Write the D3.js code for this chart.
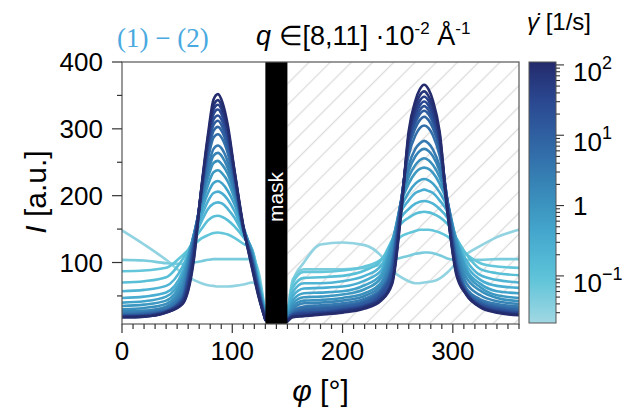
<!DOCTYPE html>
<html><head><meta charset="utf-8">
<script src="https://cdn.jsdelivr.net/npm/d3@7"></script>
<style>body{margin:0;background:#fff}svg{display:block}</style>
</head><body><svg id="c" width="625" height="409" font-family="'Liberation Sans',Arial,sans-serif"></svg>
<script>
// ---------- data ----------
const phiLeft  = [0,20,40,55,65,72,78,83,87,91,96,102,110,118,124,130];
const phiRight = [150,155,165,180,200,220,235,245,253,260,266,270,274,278,282,288,295,303,312,325,340,360];
const shearRates = [0.03,0.05,0.08,0.12,0.2,0.3,0.5,0.8,1.2,2,3,5,8,12,20,30,45,70,100];
const curvesLeft = [
 [148,127,104,84,74,69,66,65,64,64,64,65,67,70,62,20],
 [104,103,99,98,100,102,104,105,105,105,105,105,105,105,85,22],
 [87,88,92,111,126,136,141,144,145,144,142,137,128,118,78,25],
 [70,72,78,105,133,150,163,169,170,168,163,154,138,120,75,24],
 [57,59,65,94,135,161,180,188,190,188,180,167,142,118,72,23],
 [47,49,55,86,137,169,192,204,206,203,194,177,145,116,70,22],
 [40,42,49,80,139,177,204,219,222,218,207,187,149,115,68,21],
 [35,37,43,75,141,184,216,235,238,233,221,196,152,114,66,20],
 [30,32,38,68,141,190,227,249,252,246,232,203,154,112,64,19],
 [27,28,34,62,139,193,235,260,264,258,241,207,151,109,62,18],
 [24,26,32,55,137,195,242,270,275,269,250,211,147,107,60,17],
 [22,24,29,51,131,200,255,287,292,285,263,218,149,104,58,16],
 [21,23,28,48,128,203,263,297,303,295,271,223,150,103,57,16],
 [20,21,27,46,125,205,270,306,312,303,278,227,151,102,56,15],
 [20,21,27,45,122,207,274,314,320,311,284,230,152,101,54,15],
 [19,20,26,43,117,209,279,322,329,319,290,233,152,98,52,15],
 [19,20,26,42,112,210,283,329,336,326,295,235,152,97,51,14],
 [18,19,25,39,106,210,287,335,343,332,299,236,153,93,49,14],
 [18,19,25,38,102,212,292,344,352,340,305,238,155,91,48,14]
];
const curvesRight = [
 [15,72,100,127,130,126,110,88,78,72,69,69,70,71,72,76,85,99,112,125,138,149],
 [18,75,90,90,90,92,97,103,107,110,113,114,115,115,114,111,106,104,104,104,105,105],
 [20,70,86,86,88,94,105,124,139,144,147,149,149,149,148,145,139,128,113,99,94,92],
 [20,63,77,78,80,88,103,134,158,167,173,175,176,175,173,168,158,137,113,90,84,81],
 [19,56,69,69,72,80,95,133,167,180,188,191,192,191,188,180,167,135,104,81,74,70],
 [18,50,61,62,64,73,88,132,176,193,204,207,209,207,204,193,176,135,97,74,65,62],
 [17,44,54,55,57,66,82,131,182,205,218,223,225,223,218,205,183,135,91,68,57,54],
 [17,39,48,49,52,60,77,128,189,218,234,240,242,240,234,218,190,134,86,63,51,47],
 [16,35,43,44,47,54,70,120,191,228,246,253,256,253,246,228,192,127,78,58,47,42],
 [16,31,39,40,43,50,66,111,192,237,259,267,270,267,259,237,194,121,70,51,42,38],
 [15,28,34,36,39,46,61,102,187,245,270,278,282,278,269,244,192,112,62,45,38,34],
 [15,26,32,33,36,43,59,99,192,261,290,301,305,301,290,260,193,107,59,42,35,31],
 [14,24,29,31,34,41,58,94,190,270,301,313,318,313,301,269,194,102,58,40,33,29],
 [14,23,27,29,32,39,55,88,188,276,309,322,327,322,309,275,193,98,56,38,31,27],
 [14,22,25,26,30,36,53,85,188,278,315,328,334,328,315,278,187,95,55,37,30,25],
 [13,21,24,25,29,35,49,76,182,282,321,335,341,335,321,282,180,92,54,35,28,24],
 [13,20,22,24,28,34,46,72,178,286,327,342,348,342,327,285,177,88,54,34,27,23],
 [12,19,20,23,26,33,45,71,175,291,334,350,356,349,334,292,181,86,54,34,26,22],
 [12,18,20,22,25,31,43,68,172,297,342,359,366,359,342,296,179,83,52,33,25,21]
];
const xTicks = [0,100,200,300];
const yTicks = [100,200,300,400];
const cbTicks = [0.1,1,10,100];
const maskRange = [130,150];
const colorPos = [0,0.17,0.32,0.45,0.58,0.72,0.86,1];
const colorStops = ["#a1d8e3","#5ec4d9","#47acd0","#3b94bf","#357bb1","#2f60a1","#2a4690","#232a6b"];

// ---------- scales ----------
const svg = d3.select('#c');
const x = d3.scaleLinear().domain([0,360]).range([122,519]);
const y = d3.scaleLinear().domain([8,400]).range([324,62]);
const cb = d3.scaleLog().domain([0.0214,110]).range([323,62]);
const tScale = d3.scaleLog().domain(cb.domain()).range([0,1]);
const colorAt = d3.scaleLinear().domain(colorPos).range(colorStops).interpolate(d3.interpolateRgb);
const color = v => colorAt(tScale(v));

const defs = svg.append('defs');
defs.append('clipPath').attr('id','clip').append('rect')
  .attr('x',x(0)).attr('y',y(400)).attr('width',x(360)-x(0)).attr('height',y(8)-y(400));
const pat = defs.append('pattern').attr('id','hatch').attr('patternUnits','userSpaceOnUse')
  .attr('width',15).attr('height',15).attr('patternTransform','rotate(45)');
pat.append('line').attr('x1',7.5).attr('y1',-1).attr('x2',7.5).attr('y2',16)
  .attr('stroke','#dcdcdc').attr('stroke-width',1.3);

// hatched region
svg.append('rect').attr('x',x(maskRange[1])).attr('y',y(400))
  .attr('width',x(360)-x(maskRange[1])).attr('height',y(8)-y(400)).attr('fill','url(#hatch)');

// curves
const g = svg.append('g').attr('clip-path','url(#clip)');
const lineL = d3.line().x((d,i)=>x(phiLeft[i])).y(d=>y(d)).curve(d3.curveMonotoneX);
const lineR = d3.line().x((d,i)=>x(phiRight[i])).y(d=>y(d)).curve(d3.curveMonotoneX);
shearRates.forEach((s,k)=>{
  [[curvesLeft[k],lineL],[curvesRight[k],lineR]].forEach(([vals,ln])=>{
    g.append('path').attr('d',ln(vals)).attr('fill','none')
      .attr('stroke',color(s)).attr('stroke-width',2.6)
      .attr('stroke-linejoin','round').attr('stroke-linecap','round');
  });
});

// mask
svg.append('rect').attr('x',x(maskRange[0])).attr('y',y(400))
  .attr('width',x(maskRange[1])-x(maskRange[0])).attr('height',y(8)-y(400)).attr('fill','#000');
svg.append('text').attr('transform',`translate(${x((maskRange[0]+maskRange[1])/2)+7},197) rotate(-90)`)
  .attr('text-anchor','middle').attr('fill','#fff').attr('font-size',21).text('mask');

// frame
svg.append('rect').attr('x',x(0)).attr('y',y(400)).attr('width',x(360)-x(0)).attr('height',y(8)-y(400))
  .attr('fill','none').attr('stroke','#555').attr('stroke-width',1.2);

// ticks
const ax = svg.append('g').attr('stroke','#333').attr('stroke-width',1.2);
d3.range(50,401,50).forEach(v=>{
  const major = v%100===0;
  ax.append('line').attr('x1',x(0)).attr('x2',x(0)-(major?10:5)).attr('y1',y(v)).attr('y2',y(v));
});
d3.range(0,361,10).forEach(v=>{
  const major = xTicks.includes(v);
  ax.append('line').attr('y1',y(8)).attr('y2',y(8)+(major?9:5)).attr('x1',x(v)).attr('x2',x(v));
});
yTicks.forEach(v=>{
  svg.append('text').attr('x',x(0)-19).attr('y',y(v)).attr('dy','0.36em')
    .attr('text-anchor','end').attr('font-size',26).attr('fill','#000').text(v);
});
xTicks.forEach(v=>{
  svg.append('text').attr('x',x(v)).attr('y',360).attr('text-anchor','middle')
    .attr('font-size',26).attr('fill','#000').text(v);
});

// axis labels
const xl = svg.append('text').attr('x',(x(0)+x(360))/2).attr('y',401).attr('text-anchor','middle')
  .attr('font-size',30).attr('fill','#000');
xl.append('tspan').attr('font-style','italic').text('φ');
xl.append('tspan').text(' [°]');
const yl = svg.append('text').attr('transform','translate(46,192) rotate(-90)').attr('text-anchor','middle')
  .attr('font-size',30).attr('fill','#000');
yl.append('tspan').attr('font-style','italic').text('I');
yl.append('tspan').text(' [a.u.]');

// title
const tt = svg.append('text').attr('x',256).attr('y',45).attr('font-size',27).attr('fill','#000');
tt.append('tspan').attr('font-style','italic').text('q');
tt.append('tspan').text(' ∈[8,11] ·10');
tt.append('tspan').attr('font-size',17).attr('dy',-11).text('-2');
tt.append('tspan').attr('dy',11).text(' Å');
tt.append('tspan').attr('font-size',17).attr('dy',-11).text('-1');

svg.append('text').attr('x',117).attr('y',47).attr('font-size',27)
  .style('font-family','"Liberation Serif","Times New Roman",serif').attr('fill','#49a9e0').text('(1) − (2)');

// colorbar
const cbx = 529, cbw = 27;
const grad = defs.append('linearGradient').attr('id','cbg').attr('x1',0).attr('x2',0).attr('y1',1).attr('y2',0);
d3.range(0,1.0001,0.05).forEach(t=>grad.append('stop').attr('offset',t).attr('stop-color',colorAt(t)));
svg.append('rect').attr('x',cbx).attr('y',cb.range()[1]).attr('width',cbw).attr('height',cb.range()[0]-cb.range()[1])
  .attr('fill','url(#cbg)').attr('stroke','#555').attr('stroke-width',1);
const cbt = svg.append('g').attr('stroke','#333').attr('stroke-width',1.1);
[-2,-1,0,1,2].forEach(e=>{
  d3.range(1,10).forEach(m=>{
    const v = m*Math.pow(10,e);
    if(v<cb.domain()[0]||v>cb.domain()[1]) return;
    const major = m===1;
    cbt.append('line').attr('x1',cbx+cbw).attr('x2',cbx+cbw+(major?8:4)).attr('y1',cb(v)).attr('y2',cb(v));
  });
});
const supLabels = {0.1:'−1',10:'1',100:'2'};
cbTicks.forEach(v=>{
  const t = svg.append('text').attr('x',573).attr('font-size',26).attr('fill','#000');
  if(v===1){ t.attr('y',cb(v)+9).text('1'); }
  else {
    t.attr('y',cb(v)+16);
    t.append('tspan').text('10');
    t.append('tspan').attr('font-size',18).attr('dy',-12).text(supLabels[v]);
  }
});
const ct = svg.append('text').attr('x',527).attr('y',30).attr('font-size',24).attr('fill','#000');
ct.append('tspan').attr('font-style','italic').text('γ̇');
ct.append('tspan').text(' [1/s]');
</script></body></html>
